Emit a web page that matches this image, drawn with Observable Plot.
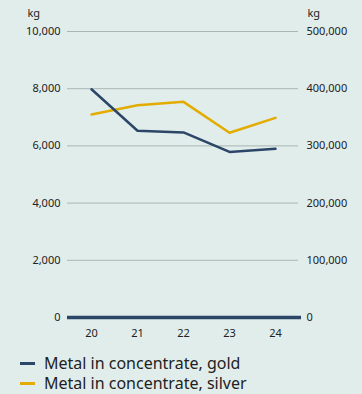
<!DOCTYPE html>
<html>
<head>
<meta charset="utf-8">
<script src="https://cdn.jsdelivr.net/npm/d3@7"></script>
<script src="https://cdn.jsdelivr.net/npm/@observablehq/plot@0.6"></script>
<style>
  html, body { margin: 0; padding: 0; background: #e1edeb; }
  body { width: 362px; height: 394px; overflow: hidden; font-family: "Noto Sans", sans-serif; }
  #legend { padding: 8px 0 0 20px; font-size: 16px; color: #222; }
  .row { display: flex; align-items: center; height: 20px; }
  .sw { width: 15px; height: 3px; margin-right: 9px; }
</style>
</head>
<body>
<div id="chart"></div>
<div id="legend"></div>
<script>
const years = ["20", "21", "22", "23", "24"];
const gold = [7980, 6530, 6470, 5790, 5900];          // kg, left axis
const silver = [355000, 371000, 377000, 323000, 349000]; // kg, right axis
const leftTicks = [0, 2000, 4000, 6000, 8000, 10000];
const rightTicks = [0, 100000, 200000, 300000, 400000, 500000];
const seriesNames = ["Metal in concentrate, gold", "Metal in concentrate, silver"];
const colors = ["#2b4667", "#e3ac00"];
const ratio = 50; // right axis / left axis

const goldData = years.map((y, i) => ({year: y, value: gold[i]}));
const silverData = years.map((y, i) => ({year: y, value: silver[i] / ratio}));

const chart = Plot.plot({
  width: 362,
  height: 345,
  marginLeft: 67,
  marginRight: 64,
  marginTop: 31,
  marginBottom: 28,
  style: {background: "transparent", fontFamily: "Noto Sans, sans-serif", fontSize: "11px", color: "#222"},
  x: {type: "point", domain: years, padding: 0.5},
  y: {domain: [0, 10000]},
  marks: [
    Plot.gridY(leftTicks, {stroke: "#a9b6b3", strokeOpacity: 1, strokeWidth: 1}),
    Plot.axisY(leftTicks, {anchor: "left", tickSize: 0, tickPadding: 7, tickFormat: d => d3.format(",")(d), label: null, fontSize: 11}),
    Plot.axisY(rightTicks.map(d => d / ratio), {anchor: "right", tickSize: 0, tickPadding: 8, tickFormat: d => d3.format(",")(d * ratio), label: null, fontSize: 11}),
    Plot.axisX({tickSize: 0, tickPadding: 12, label: null, fontSize: 11}),
    Plot.text(["kg"], {frameAnchor: "top-left", dx: -40, dy: -22, textAnchor: "start", fontSize: 11}),
    Plot.text(["kg"], {frameAnchor: "top-right", dx: 9, dy: -22, textAnchor: "start", fontSize: 11}),
    Plot.ruleY([0], {stroke: colors[0], strokeWidth: 3.5, insetRight: -3}),
    Plot.line(silverData, {x: "year", y: "value", stroke: colors[1], strokeWidth: 2.5}),
    Plot.line(goldData, {x: "year", y: "value", stroke: colors[0], strokeWidth: 2.5})
  ]
});
document.getElementById("chart").append(chart);

const legend = document.getElementById("legend");
seriesNames.forEach((name, i) => {
  const row = document.createElement("div");
  row.className = "row";
  const sw = document.createElement("span");
  sw.className = "sw";
  sw.style.background = colors[i];
  const t = document.createElement("span");
  t.textContent = name;
  row.append(sw, t);
  legend.append(row);
});
</script>
</body>
</html>
